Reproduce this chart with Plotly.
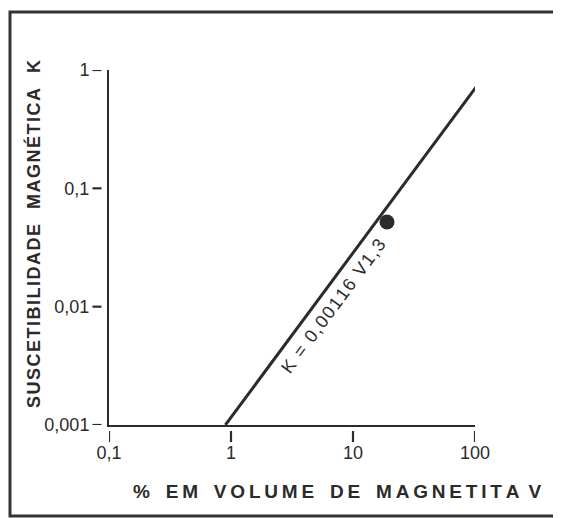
import numpy as np
import plotly.graph_objects as go

# --- data ---
x_tickvals = [0.1, 1, 10, 100]
x_ticktext = ["0,1", "1", "10", "100"]
y_tickvals = [0.001, 0.01, 0.1, 1]
y_ticktext = ["0,001", "0,01", "0,1", "1"]

coef = 0.00116
expo = 1.39
v_line = [0.9, 107]          # drawn extent of the fitted line (% volume)
k_line = [coef * v ** expo for v in v_line]

blob_v = [19.0]               # dark blot near the end of the label
blob_k = [0.052]

label_v = 6.9
label_k = 0.0102
label_text = "K = 0,00116 V1,3"

x_title_words = ["%", "EM", "VOLUME", "DE", "MAGNETITA", "V"]
y_title_words = ["SUSCETIBILIDADE", "MAGNÉTICA", "K"]

# page has an 8px body margin, so the figure is laid out 8px up/left
W, H = 553, 510
L, R, T, B = 101, 467, 62, 417   # plot area in figure pixels
pw, ph = R - L, B - T

ink = "#2b2b2b"
font = "Liberation Sans"
nb = "\u00a0"
thin = "\u2009"
hair = "\u200a"


def spaced(word, sep=thin):
    return sep.join(word)


fig = go.Figure()
fig.add_trace(go.Scatter(x=v_line, y=k_line, mode="lines",
                         line=dict(color=ink, width=3), hoverinfo="skip"))
fig.add_trace(go.Scatter(x=blob_v, y=blob_k, mode="markers",
                         marker=dict(color=ink, size=15), hoverinfo="skip"))

shapes = []
for v in y_tickvals:
    shapes.append(dict(type="line", xref="x domain", yref="y",
                       x0=-16.5 / pw, x1=-7.5 / pw, y0=v, y1=v,
                       line=dict(color=ink, width=2.2)))
for v in x_tickvals:
    shapes.append(dict(type="line", xref="x", yref="y domain",
                       x0=v, x1=v, y0=-6 / ph, y1=-17 / ph,
                       line=dict(color=ink, width=2.2)))
shapes.append(dict(type="rect", xref="paper", yref="paper",
                   x0=(2 - L) / pw, x1=(549 - L) / pw,
                   y0=(B - 508) / ph, y1=(B - 4) / ph,
                   line=dict(color="#333", width=3)))

x_title = (nb * 3).join(spaced(w) for w in x_title_words[:-1]) + nb + thin + x_title_words[-1]
y_title = (nb * 3).join(spaced(w, hair) for w in y_title_words)

annotations = [
    dict(x=np.log10(label_v), y=np.log10(label_k), xref="x", yref="y",
         text=spaced(label_text, hair),
         textangle=-53.5, showarrow=False, xanchor="center", yanchor="middle",
         font=dict(family=font, size=18, color=ink)),
    dict(x=(329 - L) / pw, y=(B - 483) / ph, xref="paper", yref="paper",
         text=f"<b>{x_title}</b>", xanchor="center", yanchor="middle",
         showarrow=False, font=dict(family=font, size=19, color=ink)),
    dict(x=(25 - L) / pw, y=(B - 226) / ph, xref="paper", yref="paper",
         text=f"<b>{y_title}</b>", textangle=-90, xanchor="center", yanchor="middle",
         showarrow=False, font=dict(family=font, size=18, color=ink)),
]

fig.update_layout(
    width=W, height=H,
    margin=dict(l=L, r=W - R, t=T, b=H - B, pad=0, autoexpand=False),
    paper_bgcolor="white", plot_bgcolor="white",
    showlegend=False,
    shapes=shapes, annotations=annotations,
    font=dict(family=font, color=ink),
)
fig.update_xaxes(type="log", range=[-1, 2], tickvals=x_tickvals, ticktext=x_ticktext,
                 ticks="", showgrid=False, zeroline=False, automargin=False,
                 showline=True, linecolor=ink, linewidth=2,
                 tickfont=dict(family=font, size=18, color=ink),
                 ticklabelstandoff=10)
fig.update_yaxes(type="log", range=[-3, 0], tickvals=y_tickvals, ticktext=y_ticktext,
                 ticks="", showgrid=False, zeroline=False, automargin=False,
                 showline=True, linecolor=ink, linewidth=2,
                 tickfont=dict(family=font, size=18, color=ink),
                 ticklabelstandoff=14)

fig.write_html("out.html")
